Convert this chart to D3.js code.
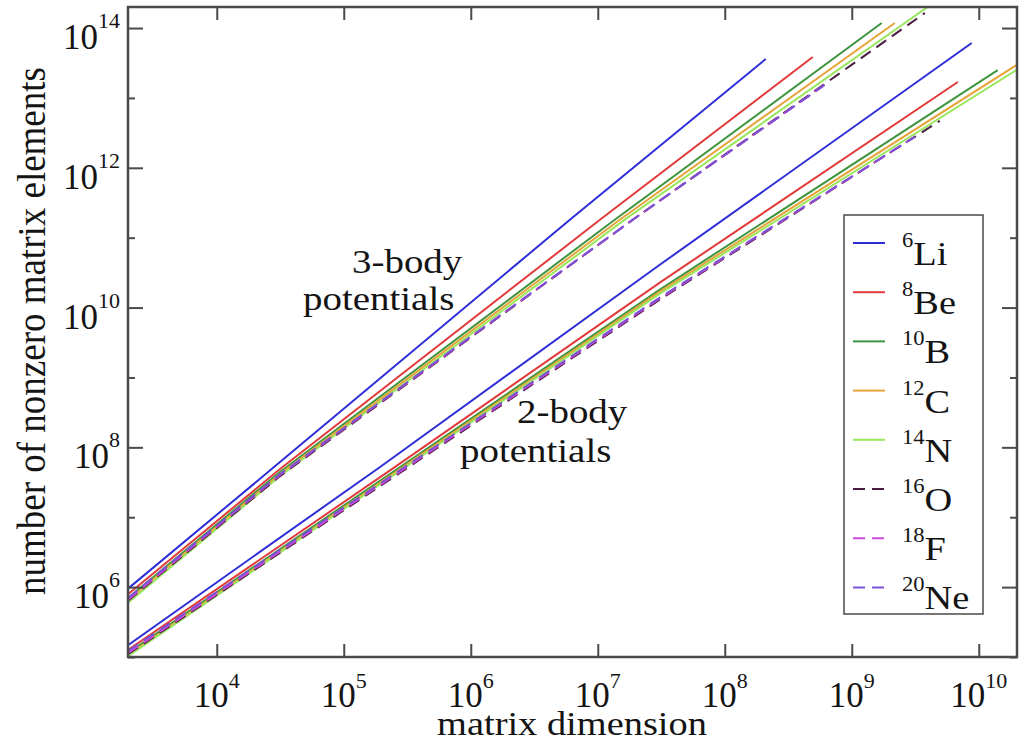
<!DOCTYPE html>
<html>
<head>
<meta charset="utf-8">
<script src="https://cdn.jsdelivr.net/npm/d3@7"></script>
<style>
  body { margin: 0; background: #fff; }
  text { font-family: "Liberation Serif", "Times New Roman", serif; fill: #141414; }
</style>
</head>
<body>
<svg id="chart" width="1020" height="744"></svg>
<script>
// Nuclei shown in the legend
const massNumbers = ["6", "8", "10", "12", "14", "16", "18", "20"];
const elements = ["Li", "Be", "B", "C", "N", "O", "F", "Ne"];
const colors = ["#2e2ed8", "#e23a3a", "#3f953f", "#e6a43a", "#98e65c", "#4a1c42", "#cf48da", "#7b52d6"];
const dashed = [false, false, false, false, false, true, true, true];

// [matrix dimension, number of nonzero matrix elements] — 3-body potentials
const li3 = [[2.0e3, 9.5e5], [3.13e4, 6.1e7], [6.03e6, 1.81e11], [2.10e8, 3.6e13]];
const be3 = [[2.0e3, 7.9e5], [3.13e4, 4.85e7], [1.04e7, 1.81e11], [4.93e8, 3.85e13]];
const b3  = [[2.0e3, 7.0e5], [3.13e4, 4.4e7], [1.36e7, 1.81e11], [1.72e9, 1.18e14]];
const c3  = [[2.0e3, 6.5e5], [3.13e4, 4.1e7], [1.49e7, 1.81e11], [2.18e9, 1.18e14]];
const n3  = [[2.0e3, 6.0e5], [3.13e4, 3.85e7], [1.63e7, 1.81e11], [3.96e9, 2.0e14]];
const o3  = [[2.0e3, 6.4e5], [3.13e4, 3.85e7], [1.89e7, 1.81e11], [3.76e9, 1.64e14]];
const f3  = [[2.0e3, 6.6e5], [3.13e4, 4.0e7], [1.89e7, 1.81e11], [6.1e8, 1.53e13]];
const ne3 = [[2.0e3, 7.0e5], [3.13e4, 4.1e7], [1.89e7, 1.81e11], [6.1e8, 1.53e13]];

// [matrix dimension, number of nonzero matrix elements] — 2-body potentials
const li2 = [[2.0e3, 1.48e5], [1.92e5, 5.2e7], [3.08e7, 4.1e10], [8.8e9, 6.1e13]];
const be2 = [[2.0e3, 1.26e5], [2.52e5, 5.2e7], [3.08e7, 2.28e10], [6.84e9, 1.69e13]];
const b2  = [[2.0e3, 1.14e5], [3.08e7, 1.81e10], [1.41e10, 2.5e13]];
const c2  = [[2.0e3, 1.07e5], [3.08e7, 1.69e10], [2.1e10, 3.16e13]];
const n2  = [[2.0e3, 1.03e5], [3.08e7, 1.58e10], [2.1e10, 2.68e13]];
const o2  = [[2.0e3, 1.1e5], [3.08e7, 1.3e10], [4.93e9, 4.7e12]];
const f2  = [[2.0e3, 1.14e5], [3.08e7, 1.35e10], [3.13e9, 2.77e12]];
const ne2 = [[2.0e3, 1.22e5], [3.08e7, 1.39e10], [3.13e9, 2.77e12]];

const threeBody = [li3, be3, b3, c3, n3, o3, f3, ne3];
const twoBody = [li2, be2, b2, c2, n2, o2, f2, ne2];

// Axis ticks
const xTicks = [1e4, 1e5, 1e6, 1e7, 1e8, 1e9, 1e10];
const xTickExp = ["4", "5", "6", "7", "8", "9", "10"];
const yMajor = [1e6, 1e8, 1e10, 1e12, 1e14];
const yMajorExp = ["6", "8", "10", "12", "14"];
const yMinor = [1e5, 1e7, 1e9, 1e11, 1e13];

const svg = d3.select("#chart");
const L = 128, R = 1017, T = 7, B = 657;
const SX = 1.13; // the serif lettering is drawn slightly wide

const x = d3.scaleLog().domain([2e3, 2e10]).range([L, R]);
const y = d3.scaleLog().domain([1e5, 2e14]).range([B, T]);

svg.append("defs").append("clipPath").attr("id", "plotClip")
  .append("rect").attr("x", L).attr("y", T).attr("width", R - L).attr("height", B - T);

// Data lines
const line = d3.line().x(d => x(d[0])).y(d => y(d[1]));
const lines = svg.append("g").attr("clip-path", "url(#plotClip)");
[threeBody, twoBody].forEach(group => {
  group.forEach((series, i) => {
    lines.append("path")
      .datum(series)
      .attr("d", line)
      .attr("fill", "none")
      .attr("stroke", colors[i])
      .attr("stroke-width", 2)
      .attr("stroke-dasharray", dashed[i] ? "12,7" : null);
  });
});

// Ticks on all four sides, pointing inward
const axisStyle = g => {
  g.select(".domain").remove();
  g.selectAll(".tick line").attr("stroke", "#4a4a4a").attr("stroke-width", 2);
};
svg.append("g").attr("transform", `translate(0,${B})`)
  .call(d3.axisBottom(x).tickValues(xTicks).tickSize(-13).tickFormat(() => "")).call(axisStyle);
svg.append("g").attr("transform", `translate(0,${T})`)
  .call(d3.axisTop(x).tickValues(xTicks).tickSize(-13).tickFormat(() => "")).call(axisStyle);
svg.append("g").attr("transform", `translate(${L},0)`)
  .call(d3.axisLeft(y).tickValues(yMajor).tickSize(-15).tickFormat(() => "")).call(axisStyle);
svg.append("g").attr("transform", `translate(${L},0)`)
  .call(d3.axisLeft(y).tickValues(yMinor).tickSize(-7).tickFormat(() => "")).call(axisStyle);
svg.append("g").attr("transform", `translate(${R},0)`)
  .call(d3.axisRight(y).tickValues(yMajor).tickSize(-15).tickFormat(() => "")).call(axisStyle);
svg.append("g").attr("transform", `translate(${R},0)`)
  .call(d3.axisRight(y).tickValues(yMinor).tickSize(-7).tickFormat(() => "")).call(axisStyle);

// Frame
svg.append("rect").attr("x", L).attr("y", T).attr("width", R - L).attr("height", B - T)
  .attr("fill", "none").attr("stroke", "#4a4a4a").attr("stroke-width", 2.5);

// Tick labels as 10 with superscript exponent
const xLab = svg.append("g").selectAll("text").data(xTicks).join("text")
  .attr("x", d => x(d)).attr("y", 707).attr("text-anchor", "middle").attr("font-size", 35);
xLab.append("tspan").text("10");
xLab.append("tspan").attr("dy", -19).attr("font-size", 22).text((d, i) => xTickExp[i]);

const yLab = svg.append("g").selectAll("text").data(yMajor).join("text")
  .attr("x", 120).attr("y", d => y(d) + 21).attr("text-anchor", "end").attr("font-size", 35);
yLab.append("tspan").text("10");
yLab.append("tspan").attr("dy", -21).attr("font-size", 22).text((d, i) => yMajorExp[i]);

// Axis titles
svg.append("text").attr("transform", `translate(572,735) scale(${SX},1)`).attr("text-anchor", "middle")
  .attr("font-size", 34).text("matrix dimension");
svg.append("text").attr("transform", `translate(45,331) scale(1.1,1) rotate(-90)`).attr("text-anchor", "middle")
  .attr("font-size", 37).text("number of nonzero matrix elements");

// Group annotations
const notes = [
  { t: "3-body", x: 352, y: 273 },
  { t: "potentials", x: 303, y: 310 },
  { t: "2-body", x: 517, y: 423 },
  { t: "potentials", x: 460, y: 462 }
];
svg.append("g").selectAll("text").data(notes).join("text")
  .attr("transform", d => `translate(${d.x},${d.y}) scale(1.18,1)`)
  .attr("font-size", 33).text(d => d.t);

// Legend
const lg = svg.append("g");
lg.append("rect").attr("x", 844).attr("y", 215).attr("width", 139).attr("height", 399)
  .attr("fill", "#fff").attr("stroke", "#4a4a4a").attr("stroke-width", 1.5);
const rows = lg.selectAll("g.row").data(elements).join("g").attr("class", "row")
  .attr("transform", (d, i) => `translate(0,${243 + i * 49.2})`);
rows.append("line").attr("x1", 853).attr("x2", 885)
  .attr("stroke", (d, i) => colors[i]).attr("stroke-width", 2)
  .attr("stroke-dasharray", (d, i) => dashed[i] ? "12,7" : null);
const lt = rows.append("text").attr("transform", `translate(902,4) scale(${SX},1)`);
lt.append("tspan").attr("font-size", 20).text((d, i) => massNumbers[i]);
lt.append("tspan").attr("dy", 18).attr("font-size", 34).text(d => d);
</script>
</body>
</html>
